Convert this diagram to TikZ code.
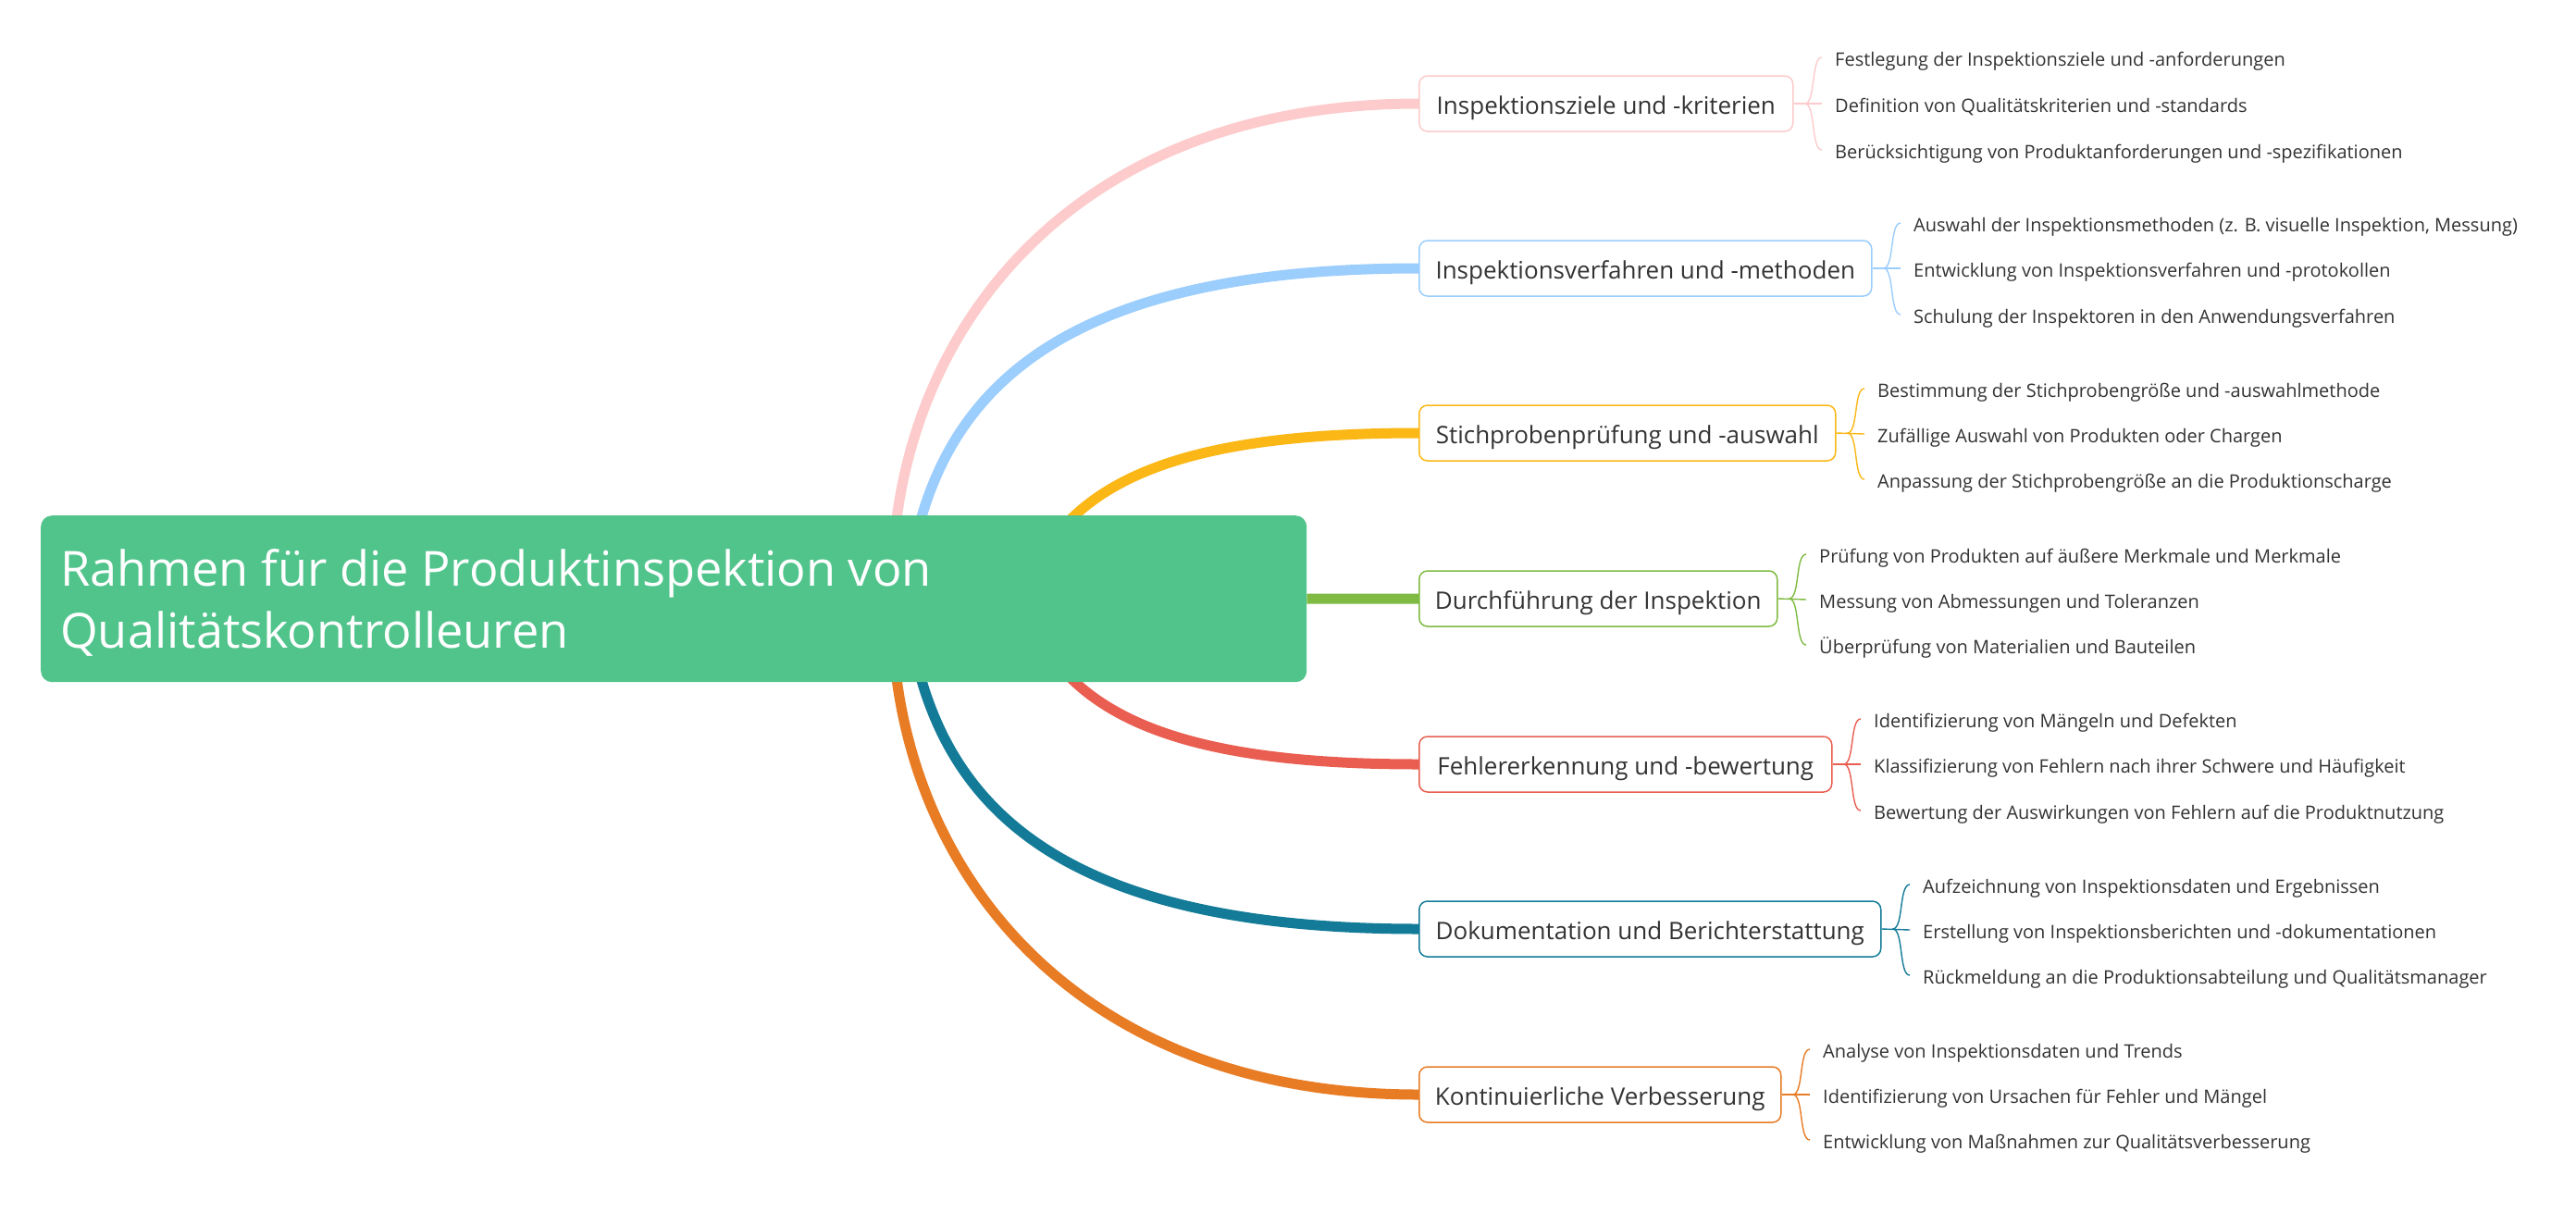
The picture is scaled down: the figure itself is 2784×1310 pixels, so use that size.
\documentclass[tikz,border=0pt]{standalone}
\usepackage{fontspec}
\setmainfont{Open Sans}
\usetikzlibrary{backgrounds,calc}
\definecolor{cpink}{HTML}{FDCBCB}
\definecolor{cblue}{HTML}{9BCDFD}
\definecolor{cyellow}{HTML}{FBB716}
\definecolor{cgreen}{HTML}{7FBB42}
\definecolor{cred}{HTML}{E95E50}
\definecolor{cteal}{HTML}{137B98}
\definecolor{corange}{HTML}{E87C25}
\definecolor{croot}{HTML}{51C48C}
\definecolor{ctext}{HTML}{333333}
\begin{document}
\begin{tikzpicture}[x=1pt,y=-1pt,
  rootbox/.style={fill=croot, rounded corners=12pt, anchor=north west,
    minimum width=1368pt, minimum height=180pt, inner sep=0pt},
  roottext/.style={anchor=base west, inner sep=0pt, text=white, font=\fontsize{52.3}{60}\selectfont},
  lvl/.style={draw=#1, line width=1.5pt, fill=white, rounded corners=9pt, anchor=west,
    minimum height=60pt, inner sep=0pt, align=center, text=ctext,
    font=\fontsize{26}{30}\selectfont, text height=24pt, text depth=2pt},
  leaf/.style={anchor=west, inner sep=0pt, text=ctext, font=\fontsize{20}{24}\selectfont,
    text height=20pt, text depth=2pt},
  mainline/.style={draw=#1, line width=11pt},
  brace/.style={draw=#1, line width=1.4pt},
]
\useasboundingbox (0,0) rectangle (2784,1310);

% root
\node[rootbox] (root) at (44,557) {};
\node[roottext] (root1) at (65,633) {Rahmen für die Produktinspektion von};
\node[roottext] (root2) at (65,700) {Qualitätskontrolleuren};

% level 1
\node[lvl=cpink,   minimum width=404pt] (b1) at (1533,112)  {Inspektionsziele und -kriterien};
\node[lvl=cblue,   minimum width=489pt] (b2) at (1533,290)  {Inspektionsverfahren und -methoden};
\node[lvl=cyellow, minimum width=450pt] (b3) at (1533,468)  {Stichprobenprüfung und -auswahl};
\node[lvl=cgreen,  minimum width=387pt] (b4) at (1533,647)  {Durchführung der Inspektion};
\node[lvl=cred,    minimum width=446pt] (b5) at (1533,826)  {Fehlererkennung und -bewertung};
\node[lvl=cteal,   minimum width=499pt] (b6) at (1533,1004) {Dokumentation und Berichterstattung};
\node[lvl=corange, minimum width=391pt] (b7) at (1533,1183) {Kontinuierliche Verbesserung};

% leaves
\node[leaf] (l11) at (1983,62)  {Festlegung der Inspektionsziele und -anforderungen};
\node[leaf] (l12) at (1983,112) {Definition von Qualitätskriterien und -standards};
\node[leaf] (l13) at (1983,162) {Berücksichtigung von Produktanforderungen und -spezifikationen};

\node[leaf] (l21) at (2068,241) {Auswahl der Inspektionsmethoden (z. B. visuelle Inspektion, Messung)};
\node[leaf] (l22) at (2068,290) {Entwicklung von Inspektionsverfahren und -protokollen};
\node[leaf] (l23) at (2068,340) {Schulung der Inspektoren in den Anwendungsverfahren};

\node[leaf] (l31) at (2029,420) {Bestimmung der Stichprobengröße und -auswahlmethode};
\node[leaf] (l32) at (2029,469) {Zufällige Auswahl von Produkten oder Chargen};
\node[leaf] (l33) at (2029,518) {Anpassung der Stichprobengröße an die Produktionscharge};

\node[leaf] (l41) at (1966,599) {Prüfung von Produkten auf äußere Merkmale und Merkmale};
\node[leaf] (l42) at (1966,648) {Messung von Abmessungen und Toleranzen};
\node[leaf] (l43) at (1966,697) {Überprüfung von Materialien und Bauteilen};

\node[leaf] (l51) at (2025,777) {Identifizierung von Mängeln und Defekten};
\node[leaf] (l52) at (2025,826) {Klassifizierung von Fehlern nach ihrer Schwere und Häufigkeit};
\node[leaf] (l53) at (2025,876) {Bewertung der Auswirkungen von Fehlern auf die Produktnutzung};

\node[leaf] (l61) at (2078,956)  {Aufzeichnung von Inspektionsdaten und Ergebnissen};
\node[leaf] (l62) at (2078,1005) {Erstellung von Inspektionsberichten und -dokumentationen};
\node[leaf] (l63) at (2078,1054) {Rückmeldung an die Produktionsabteilung und Qualitätsmanager};

\node[leaf] (l71) at (1970,1134) {Analyse von Inspektionsdaten und Trends};
\node[leaf] (l72) at (1970,1183) {Identifizierung von Ursachen für Fehler und Mängel};
\node[leaf] (l73) at (1970,1232) {Entwicklung von Maßnahmen zur Qualitätsverbesserung};

% main connectors (behind the nodes)
\begin{scope}[on background layer]
\fill[white] (0,0) rectangle (2784,1310);
\draw[mainline=cpink]   (967,578) .. controls (992,330) and (1180,112) .. (b1.west);
\draw[mainline=cblue]   (991,577) .. controls (1030,420) and (1150,290) .. (b2.west);
\draw[mainline=cyellow] (1147,572) .. controls (1210,500) and (1330,468) .. (b3.west);
\draw[mainline=cgreen]  (root.east) -- (b4.west);
\draw[mainline=cred]    (1147,722) .. controls (1210,794) and (1330,826) .. (b5.west);
\draw[mainline=cteal]   (991,717) .. controls (1030,874) and (1150,1004) .. (b6.west);
\draw[mainline=corange] (967,716) .. controls (992,964) and (1180,1183) .. (b7.west);
\end{scope}

% braces
\foreach \b/\c/\col in {b1/l1/cpink, b2/l2/cblue, b3/l3/cyellow, b4/l4/cgreen, b5/l5/cred, b6/l6/cteal, b7/l7/corange}{
  \draw[brace=\col] (\b.east) -- ([xshift=-14pt]\c2.west);
  \draw[brace=\col] ([xshift=12pt]\b.east) .. controls +(12,0) and +(-12,0) .. ([xshift=-14pt]\c1.west);
  \draw[brace=\col] ([xshift=12pt]\b.east) .. controls +(12,0) and +(-12,0) .. ([xshift=-14pt]\c3.west);
}
\end{tikzpicture}
\end{document}
